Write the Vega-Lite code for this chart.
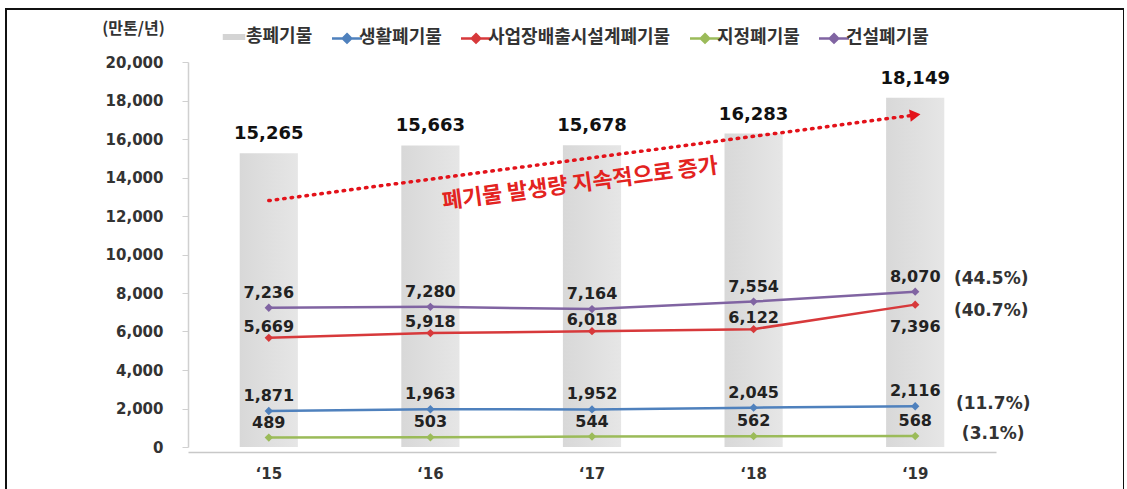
{
  "$schema": "https://vega.github.io/schema/vega-lite/v6.json",
  "width": 1118,
  "height": 490,
  "autosize": {"type": "none"},
  "padding": {"left": 6, "top": 9, "right": 0, "bottom": 0},
  "background": "white",
  "config": {
    "view": {"stroke": "#111111", "strokeWidth": 2},
    "font": "Noto Sans CJK KR",
    "text": {"font": "DejaVu Sans"}
  },
  "datasets": {
    "totals": [
      {"year": "‘15", "total": 15265},
      {"year": "‘16", "total": 15663},
      {"year": "‘17", "total": 15678},
      {"year": "‘18", "total": 16283},
      {"year": "‘19", "total": 18149}
    ],
    "series": [
      {"year": "‘15", "series": "건설폐기물", "value": 7236},
      {"year": "‘16", "series": "건설폐기물", "value": 7280},
      {"year": "‘17", "series": "건설폐기물", "value": 7164},
      {"year": "‘18", "series": "건설폐기물", "value": 7554},
      {"year": "‘19", "series": "건설폐기물", "value": 8070, "share": "(44.5%)"},
      {"year": "‘15", "series": "사업장배출시설계폐기물", "value": 5669},
      {"year": "‘16", "series": "사업장배출시설계폐기물", "value": 5918},
      {"year": "‘17", "series": "사업장배출시설계폐기물", "value": 6018},
      {"year": "‘18", "series": "사업장배출시설계폐기물", "value": 6122},
      {"year": "‘19", "series": "사업장배출시설계폐기물", "value": 7396, "share": "(40.7%)"},
      {"year": "‘15", "series": "생활폐기물", "value": 1871},
      {"year": "‘16", "series": "생활폐기물", "value": 1963},
      {"year": "‘17", "series": "생활폐기물", "value": 1952},
      {"year": "‘18", "series": "생활폐기물", "value": 2045},
      {"year": "‘19", "series": "생활폐기물", "value": 2116, "share": "(11.7%)"},
      {"year": "‘15", "series": "지정폐기물", "value": 489},
      {"year": "‘16", "series": "지정폐기물", "value": 503},
      {"year": "‘17", "series": "지정폐기물", "value": 544},
      {"year": "‘18", "series": "지정폐기물", "value": 562},
      {"year": "‘19", "series": "지정폐기물", "value": 568, "share": "(3.1%)"}
    ],
    "trend": [
      {"from": "‘15", "to": "‘19", "start": 12800, "end": 17250, "label": "폐기물 발생량 지속적으로 증가", "mid": "‘17", "textValue": 13750}
    ]
  },
  "encoding": {
    "x": {
      "field": "year",
      "type": "ordinal",
      "sort": ["‘15", "‘16", "‘17", "‘18", "‘19"],
      "scale": {"type": "band", "domain": ["‘15", "‘16", "‘17", "‘18", "‘19"], "range": [182, 990], "paddingInner": 0.64, "paddingOuter": 0.32},
      "axis": {
        "title": null,
        "orient": "bottom",
        "offset": -47,
        "domainColor": "#c8c8c8",
        "domainWidth": 1.5,
        "ticks": false,
        "labelAngle": 0,
        "labelPadding": 14,
        "labelFont": "DejaVu Sans",
        "labelFontSize": 15,
        "labelFontWeight": "bold",
        "labelColor": "#333333"
      }
    }
  },
  "layer": [
    {
      "data": {"name": "totals"},
      "mark": {
        "type": "bar",
        "color": {"gradient": "linear", "x1": 0, "x2": 1, "y1": 0, "y2": 0, "stops": [{"offset": 0, "color": "#d8d8d8"}, {"offset": 1, "color": "#e6e6e6"}]}
      },
      "encoding": {
        "y": {
          "field": "total",
          "type": "quantitative",
          "scale": {"domain": [0, 20000], "range": [438, 53], "nice": false},
          "axis": {
            "title": "(만톤/년)",
            "titleAngle": 0,
            "titleX": -55,
            "titleY": 19,
            "titleAlign": "center",
            "titleBaseline": "middle",
            "titleFont": "Noto Sans CJK KR",
            "titleFontSize": 16,
            "titleFontWeight": "bold",
            "titleColor": "#333333",
            "offset": -182,
            "values": [0, 2000, 4000, 6000, 8000, 10000, 12000, 14000, 16000, 18000, 20000],
            "format": ",.0f",
            "grid": false,
            "domainColor": "#d0d0d0",
            "domainWidth": 1.5,
            "tickColor": "#d0d0d0",
            "tickSize": 6,
            "labelPadding": 19,
            "labelFont": "DejaVu Sans",
            "labelFontSize": 15,
            "labelFontWeight": "bold",
            "labelColor": "#333333"
          }
        }
      }
    },
    {
      "data": {"name": "totals"},
      "mark": {"type": "text", "baseline": "bottom", "dy": -10, "fontSize": 18, "fontWeight": "bold", "color": "#111111"},
      "encoding": {
        "y": {"field": "total", "type": "quantitative"},
        "text": {"field": "total", "type": "quantitative", "format": ",.0f"}
      }
    },
    {
      "data": {"name": "trend"},
      "mark": {"type": "rule", "color": "#e3121a", "strokeWidth": 3.5, "strokeDash": [1.5, 6], "strokeCap": "round"},
      "encoding": {
        "x": {"field": "from", "type": "ordinal"},
        "x2": {"field": "to"},
        "y": {"field": "start", "type": "quantitative"},
        "y2": {"field": "end"}
      }
    },
    {
      "data": {"name": "trend"},
      "mark": {"type": "point", "shape": "triangle-right", "filled": true, "size": 150, "color": "#e3121a", "opacity": 1, "angle": 352.5},
      "encoding": {
        "x": {"field": "to", "type": "ordinal"},
        "y": {"field": "end", "type": "quantitative"}
      }
    },
    {
      "data": {"name": "trend"},
      "mark": {"type": "text", "font": "Noto Sans CJK KR", "angle": 352.5, "dx": -12, "fontSize": 22, "fontWeight": "bold", "color": "#e3231f", "baseline": "middle", "align": "center"},
      "encoding": {
        "x": {"field": "mid", "type": "ordinal"},
        "y": {"field": "textValue", "type": "quantitative"},
        "text": {"field": "label"}
      }
    },
    {
      "data": {"name": "series"},
      "mark": {"type": "line", "strokeWidth": 2.5},
      "encoding": {
        "y": {"field": "value", "type": "quantitative"},
        "color": {
          "field": "series",
          "type": "nominal",
          "scale": {
            "domain": ["총폐기물", "생활폐기물", "사업장배출시설계폐기물", "지정폐기물", "건설폐기물"],
            "range": ["#d4d4d4", "#4f81bd", "#d7393b", "#9bbb59", "#8064a2"]
          },
          "legend": {
            "orient": "none",
            "legendX": 219,
            "legendY": 19,
            "direction": "horizontal",
            "title": null,
            "symbolType": "M-1,0H1M0,-0.28L0.28,0L0,0.28L-0.28,0Z",
            "symbolSize": 900,
            "symbolStrokeWidth": 2.5,
            "labelOffset": 3,
            "columnPadding": 14,
            "labelLimit": 400,
            "labelFont": "Noto Sans CJK KR",
            "labelFontSize": 18,
            "labelFontWeight": "bold",
            "labelColor": "#333333",
            "encode": {
              "symbols": {
                "update": {
                  "fill": {"scale": "color", "field": "value"},
                  "stroke": {"scale": "color", "field": "value"},
                  "shape": {"signal": "datum.value === '총폐기물' ? 'M-0.75,0H0.75' : 'M-1,0H1M0,-0.28L0.28,0L0,0.28L-0.28,0Z'"},
                  "strokeWidth": {"signal": "datum.value === '총폐기물' ? 6 : 2.5"}
                }
              }
            }
          }
        }
      }
    },
    {
      "data": {"name": "series"},
      "mark": {"type": "point", "shape": "diamond", "filled": true, "size": 70, "opacity": 1},
      "encoding": {
        "y": {"field": "value", "type": "quantitative"},
        "color": {"field": "series", "type": "nominal", "legend": null}
      }
    },
    {
      "data": {"name": "series"},
      "transform": [{"filter": "datum.series !== '사업장배출시설계폐기물'"}],
      "mark": {"type": "text", "dy": -15, "fontSize": 16, "fontWeight": "bold", "color": "#222222"},
      "encoding": {
        "y": {"field": "value", "type": "quantitative"},
        "text": {"field": "value", "type": "quantitative", "format": ",.0f"}
      }
    },
    {
      "data": {"name": "series"},
      "transform": [{"filter": "datum.series === '사업장배출시설계폐기물' && datum.year !== '‘19'"}],
      "mark": {"type": "text", "dy": -11, "fontSize": 16, "fontWeight": "bold", "color": "#222222"},
      "encoding": {
        "y": {"field": "value", "type": "quantitative"},
        "text": {"field": "value", "type": "quantitative", "format": ",.0f"}
      }
    },
    {
      "data": {"name": "series"},
      "transform": [{"filter": "datum.series === '사업장배출시설계폐기물' && datum.year === '‘19'"}],
      "mark": {"type": "text", "dy": 22, "fontSize": 16, "fontWeight": "bold", "color": "#222222"},
      "encoding": {
        "y": {"field": "value", "type": "quantitative"},
        "text": {"field": "value", "type": "quantitative", "format": ",.0f"}
      }
    },
    {
      "data": {"name": "series"},
      "transform": [{"filter": "datum.share && datum.series === '건설폐기물'"}],
      "mark": {"type": "text", "dx": 76, "dy": -13, "fontSize": 17, "fontWeight": "bold", "color": "#333333"},
      "encoding": {
        "y": {"field": "value", "type": "quantitative"},
        "text": {"field": "share"}
      }
    },
    {
      "data": {"name": "series"},
      "transform": [{"filter": "datum.share && datum.series === '사업장배출시설계폐기물'"}],
      "mark": {"type": "text", "dx": 76, "dy": 6, "fontSize": 17, "fontWeight": "bold", "color": "#333333"},
      "encoding": {
        "y": {"field": "value", "type": "quantitative"},
        "text": {"field": "share"}
      }
    },
    {
      "data": {"name": "series"},
      "transform": [{"filter": "datum.share && (datum.series === '생활폐기물' || datum.series === '지정폐기물')"}],
      "mark": {"type": "text", "dx": 78, "dy": -2, "fontSize": 17, "fontWeight": "bold", "color": "#333333"},
      "encoding": {
        "y": {"field": "value", "type": "quantitative"},
        "text": {"field": "share"}
      }
    }
  ]
}
